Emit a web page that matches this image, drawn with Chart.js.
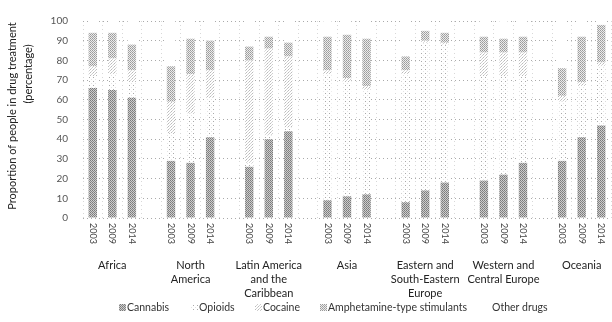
<!DOCTYPE html>
<html>
<head>
<meta charset="utf-8">
<script src="https://cdn.jsdelivr.net/npm/chart.js@4/dist/chart.umd.min.js"></script>
<style>
  html, body { margin: 0; padding: 0; background: #fff; }
  #wrap { width: 612px; height: 322px; }
</style>
</head>
<body>
<div id="wrap"><canvas id="chart" width="612" height="322"></canvas></div>
<script>
// regions (multi-line labels) and survey years
const regions = [
  ['Africa'],
  ['North', 'America'],
  ['Latin America', 'and the', 'Caribbean'],
  ['Asia'],
  ['Eastern and', 'South-Eastern', 'Europe'],
  ['Western and', 'Central Europe'],
  ['Oceania']
];
const years = ['2003', '2009', '2014'];

// per region: 2003, 2009, 2014 (percent of people in treatment)
const cannabis = [66, 65, 61, 29, 28, 41, 26, 40, 44, 9, 11, 12, 8, 14, 18, 19, 22, 28, 29, 41, 47];
const opioids  = [6, 8, 8, 14, 25, 20, 2, 2, 2, 64, 58, 53, 65, 75, 70, 53, 50, 44, 30, 26, 30];
const cocaine  = [5, 8, 6, 16, 20, 14, 52, 44, 36, 2, 2, 2, 2, 1, 1, 12, 12, 12, 3, 2, 2];
const ats      = [17, 13, 13, 18, 18, 15, 7, 6, 7, 17, 22, 24, 7, 5, 5, 8, 7, 8, 14, 23, 19];
const other    = cannabis.map((v, i) => 100 - v - opioids[i] - cocaine[i] - ats[i]);

const yTicks = [0, 10, 20, 30, 40, 50, 60, 70, 80, 90, 100];

// 3 bars per region, one empty slot between regions
const labels = [];
regions.forEach((r, g) => {
  years.forEach(y => labels.push(y));
  if (g < regions.length - 1) labels.push('');
});
function spread(arr) {
  const out = [];
  regions.forEach((r, g) => {
    for (let k = 0; k < 3; k++) out.push(arr[g * 3 + k]);
    if (g < regions.length - 1) out.push(null);
  });
  return out;
}

// grey dot textures like the printed figure
function pattern(size, cells) {
  const c = document.createElement('canvas');
  c.width = size; c.height = size;
  const x = c.getContext('2d');
  x.fillStyle = '#fff';
  x.fillRect(0, 0, size, size);
  cells.forEach(([px, py, col]) => { x.fillStyle = col; x.fillRect(px, py, 1, 1); });
  return x.createPattern(c, 'repeat');
}
const ctx = document.getElementById('chart').getContext('2d');
const pCannabis = pattern(2, [[0, 0, '#7a7a7a'], [1, 1, '#888'], [1, 0, '#d0d0d0'], [0, 1, '#c8c8c8']]);
const pOpioids  = pattern(4, [[1, 1, '#aaa'], [3, 3, '#e4e4e4']]);
const pCocaine  = pattern(3, [[0, 0, '#bbb'], [2, 1, '#ccc'], [1, 2, '#d4d4d4']]);
const pAts      = pattern(2, [[0, 0, '#9a9a9a'], [1, 1, '#aaa'], [1, 0, '#eee'], [0, 1, '#e8e8e8']]);

const font = 'Lato';
// legend swatch x positions (layout only)
const legendX = [119, 191, 255, 320, 484];

const extraText = {
  id: 'extraText',
  afterDraw(chart) {
    const x = chart.scales.x;
    const c = chart.ctx;
    const bottom = chart.chartArea.bottom;
    c.save();
    c.fillStyle = '#444';
    // year labels, rotated clockwise
    c.font = '9px ' + font;
    c.textAlign = 'left';
    c.textBaseline = 'middle';
    labels.forEach((lab, i) => {
      if (!lab) return;
      c.save();
      c.translate(x.getPixelForValue(i), bottom + 5);
      c.rotate(Math.PI / 2);
      c.fillText(lab, 0, 0);
      c.restore();
    });
    // region names
    c.fillStyle = '#222';
    c.font = '11px ' + font;
    c.textAlign = 'center';
    regions.forEach((lines, g) => {
      const cx = x.getPixelForValue(g * 4 + 1);
      lines.forEach((t, k) => c.fillText(t, cx, bottom + 47 + k * 14));
    });
    // y axis title
    c.save();
    c.translate(12, 116);
    c.rotate(-Math.PI / 2);
    c.fillText('Proportion of people in drug treatment', 0, 0);
    c.restore();
    c.save();
    c.translate(28, 74);
    c.rotate(-Math.PI / 2);
    c.fillText('(percentage)', 0, 0);
    c.restore();
    // legend
    c.font = '10.5px ' + font;
    c.textAlign = 'left';
    c.fillStyle = '#333';
    chart.data.datasets.forEach((ds, i) => {
      c.fillStyle = ds.backgroundColor;
      c.fillRect(legendX[i], 304, 7, 7);
      c.fillStyle = '#333';
      c.fillText(ds.label, legendX[i] + 8, 308);
    });
    c.restore();
  }
};

new Chart(ctx, {
  type: 'bar',
  plugins: [extraText],
  data: {
    labels: labels,
    datasets: [
      { label: 'Cannabis', data: spread(cannabis), backgroundColor: pCannabis },
      { label: 'Opioids', data: spread(opioids), backgroundColor: pOpioids },
      { label: 'Cocaine', data: spread(cocaine), backgroundColor: pCocaine },
      { label: 'Amphetamine-type stimulants', data: spread(ats), backgroundColor: pAts },
      { label: 'Other drugs', data: spread(other), backgroundColor: '#fff' }
    ]
  },
  options: {
    responsive: false,
    animation: false,
    layout: { padding: { top: 15, right: 1, left: 0, bottom: 0 } },
    datasets: {
      bar: { borderWidth: 0, categoryPercentage: 1, barPercentage: 0.43 }
    },
    scales: {
      x: {
        stacked: true,
        offset: true,
        grid: { offset: true, color: '#d8d8d8', lineWidth: 1, drawTicks: false },
        border: { display: false, dash: [1, 3] },
        ticks: { display: false },
        afterFit: s => { s.height = 104; }
      },
      y: {
        stacked: true,
        min: 0,
        max: 100,
        afterBuildTicks: s => { s.ticks = yTicks.map(v => ({ value: v })); },
        grid: { color: '#aaa', lineWidth: 1, drawTicks: false },
        border: { display: false, dash: [1, 3] },
        ticks: { padding: 15, color: '#555', font: { family: font, size: 10 } },
        afterFit: s => { s.width = 83; }
      }
    },
    plugins: {
      legend: { display: false },
      tooltip: { enabled: false }
    }
  }
});
</script>
</body>
</html>
